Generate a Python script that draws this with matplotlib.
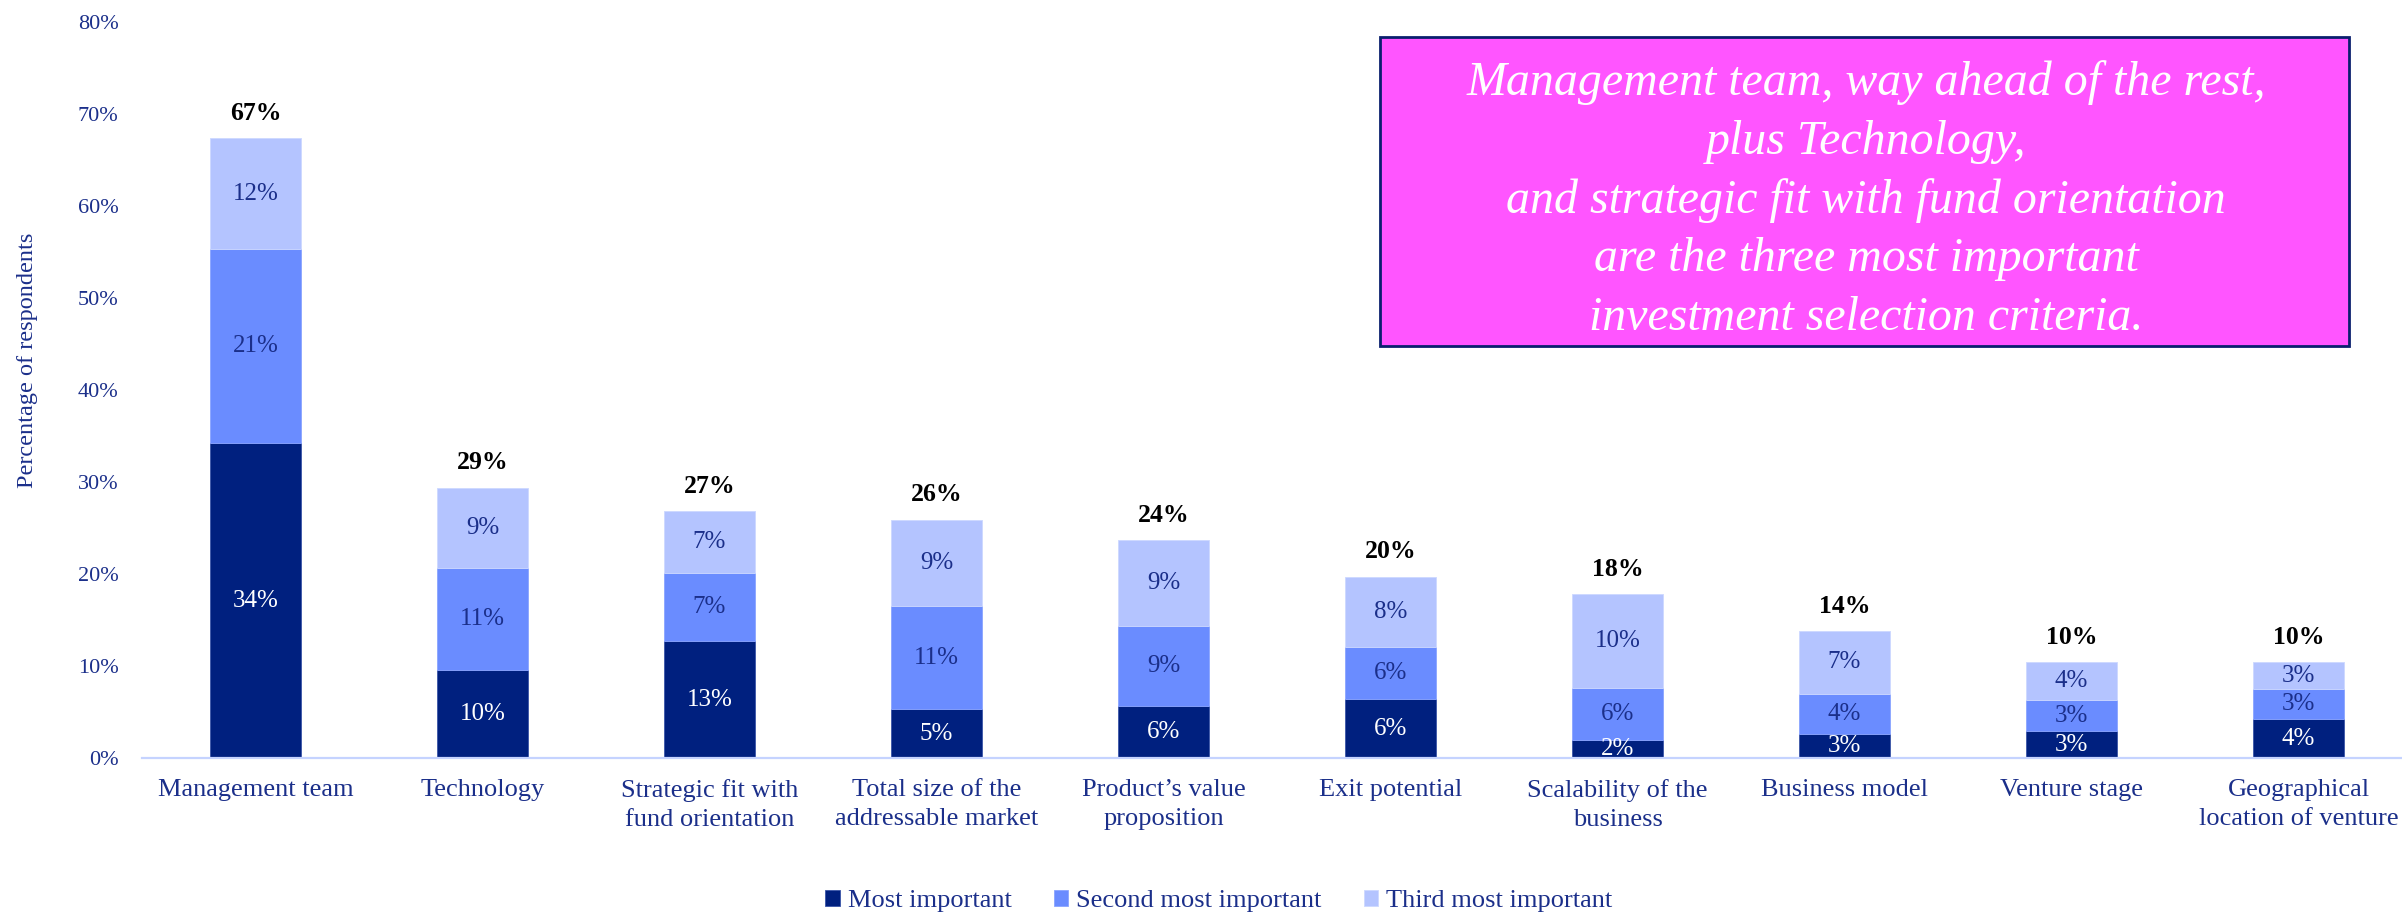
import matplotlib
matplotlib.use("Agg")
from matplotlib import pyplot as plt
from matplotlib.patches import Rectangle
import numpy as np

plt.rcParams['font.family'] = ['Liberation Serif', 'DejaVu Serif']

categories = ["Management team", "Technology", "Strategic fit with\nfund orientation",
              "Total size of the\naddressable market", "Product\u2019s value\nproposition",
              "Exit potential", "Scalability of the\nbusiness", "Business model",
              "Venture stage", "Geographical\nlocation of venture"]
most_important = [34.2, 9.6, 12.7, 5.3, 5.6, 6.4, 2.0, 2.6, 2.9, 4.2]
second_important = [21.1, 11.1, 7.4, 11.2, 8.7, 5.7, 5.6, 4.4, 3.4, 3.3]
third_important = [12.1, 8.7, 6.7, 9.4, 9.4, 7.6, 10.2, 6.8, 4.1, 2.9]
series_names = ["Most important", "Second most important", "Third most important"]
y_ticks = [0, 10, 20, 30, 40, 50, 60, 70, 80]

box_text = ("Management team, way ahead of the rest,\nplus Technology,\n"
            "and strategic fit with fund orientation\nare the three most important\n"
            "investment selection criteria.")

navy = '#1b2f8a'
dark = '#00207f'
mid = '#6a8cff'
light = '#b4c4ff'

W, H = 2402, 913
fig = plt.figure(figsize=(W / 100, H / 100), dpi=100)
ax = fig.add_axes([142 / W, 1 - 758 / H, 2270 / W, (758 - 22) / H])

x = np.arange(len(categories))
m = np.array(most_important)
s = np.array(second_important)
t = np.array(third_important)
width = 0.4

b1 = ax.bar(x, m, width, color=dark, edgecolor='#3a55a8', linewidth=0.6, label=series_names[0])
b2 = ax.bar(x, s, width, bottom=m, color=mid, edgecolor='#8aa4ff', linewidth=0.6, label=series_names[1])
b3 = ax.bar(x, t, width, bottom=m + s, color=light, edgecolor='#ccd8ff', linewidth=0.6, label=series_names[2])

for i in range(len(x)):
    ax.text(x[i], m[i] / 2, f"{round(m[i])}%", ha='center', va='center',
            color='white', fontsize=18)
    ax.text(x[i], m[i] + s[i] / 2, f"{round(s[i])}%", ha='center', va='center',
            color=navy, fontsize=18)
    ax.text(x[i], m[i] + s[i] + t[i] / 2, f"{round(t[i])}%", ha='center', va='center',
            color=navy, fontsize=18)
    total = m[i] + s[i] + t[i]
    ax.text(x[i], total + 2.7, f"{round(total)}%", ha='center', va='center',
            color='black', fontsize=18.5, fontweight='bold')

ax.set_xlim(-0.5, 9.5)
ax.set_ylim(0, 80)
ax.set_yticks(y_ticks)
ax.set_yticklabels([f"{v}%" for v in y_ticks], fontsize=16, color=navy)
ax.set_xticks(x)
ax.set_xticklabels(categories, fontsize=19, color=navy, linespacing=1.4)
ax.tick_params(axis='y', length=0, pad=17)
ax.tick_params(axis='x', length=0, pad=15)
for side in ['top', 'right', 'left']:
    ax.spines[side].set_visible(False)
ax.spines['bottom'].set_color('#c5d3ff')
ax.spines['bottom'].set_linewidth(1.6)
ax.set_ylabel('Percentage of respondents', fontsize=17.5, color=navy)
ax.yaxis.set_label_coords(-0.046, 0.54)

# callout box
fig.add_artist(Rectangle((1380 / W, 1 - 346 / H), (2349 - 1380) / W, (346 - 37) / H,
                         transform=fig.transFigure, facecolor='#ff55ff',
                         edgecolor='#0a1f6e', linewidth=2))
fig.text(1866 / W, 1 - 200 / H, box_text, ha='center', va='center', color='white',
         fontsize=34.5, style='italic', linespacing=1.42)

fig.legend(handles=[b1, b2, b3], labels=series_names, loc='center',
           bbox_to_anchor=(1219 / W, 1 - 901 / H), ncol=3, frameon=False,
           fontsize=19, handlelength=0.55, handleheight=0.55, handletextpad=0.3,
           columnspacing=1.6, labelcolor=navy)

fig.savefig('out.png', dpi=100)
